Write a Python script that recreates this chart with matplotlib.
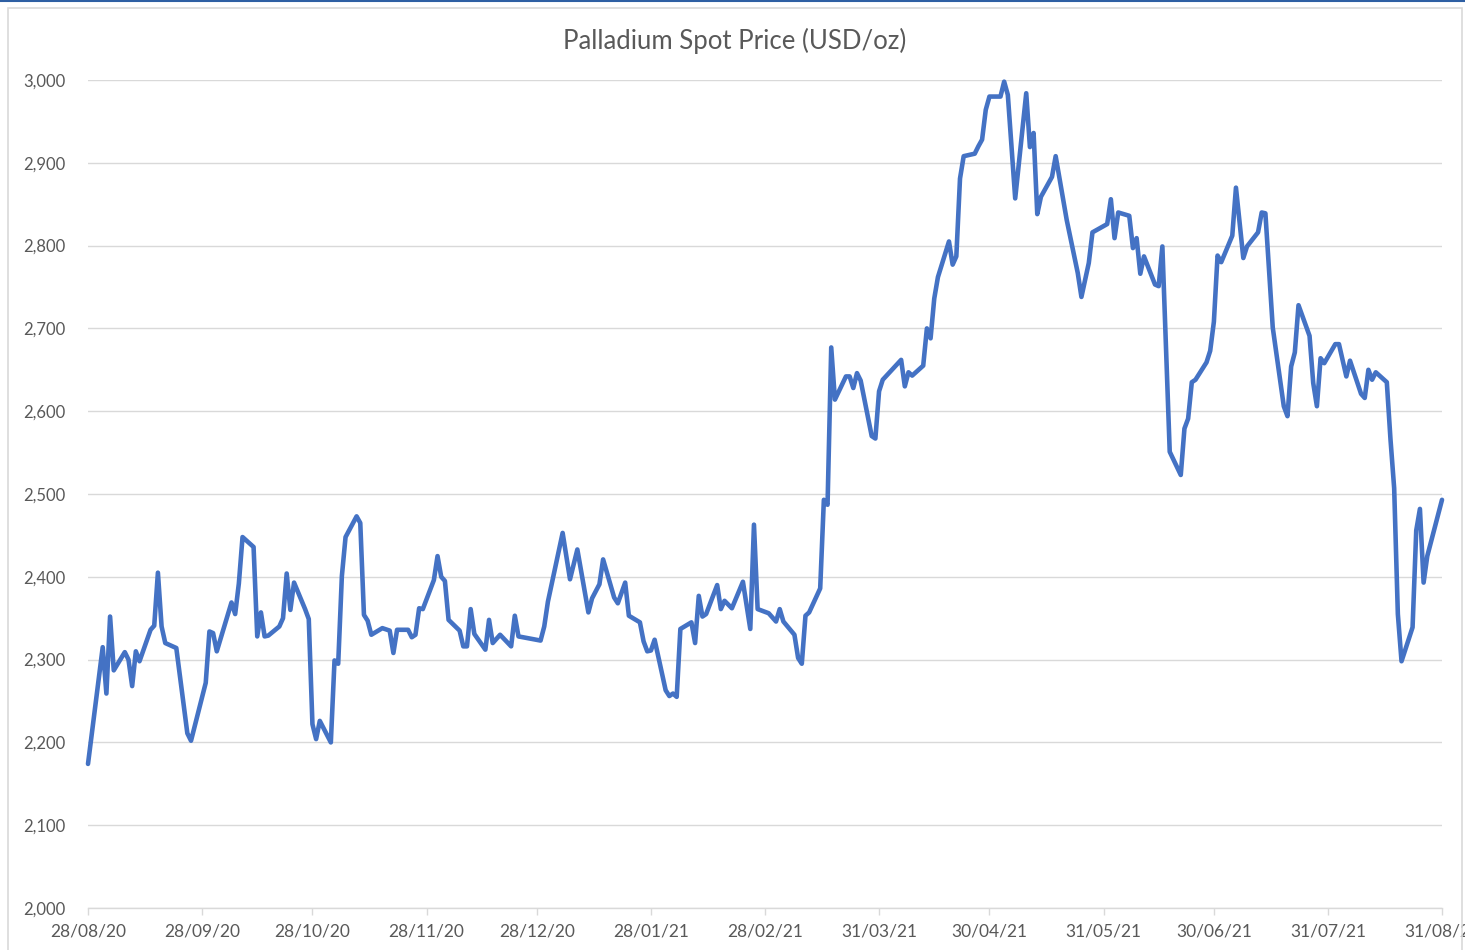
import matplotlib
matplotlib.use("Agg")
import matplotlib.pyplot as plt
import matplotlib.dates as mdates
from matplotlib.patches import Rectangle
from matplotlib.lines import Line2D
import pandas as pd

plt.rcParams['font.family'] = ['Lato', 'DejaVu Sans']

# palladium spot price, USD/oz
dates = [
    "2020-08-28", "2020-09-01", "2020-09-02", "2020-09-03", "2020-09-04", "2020-09-07",
    "2020-09-08", "2020-09-09", "2020-09-10", "2020-09-11", "2020-09-14", "2020-09-15",
    "2020-09-16", "2020-09-17", "2020-09-18", "2020-09-21", "2020-09-24", "2020-09-25",
    "2020-09-29", "2020-09-30", "2020-10-01", "2020-10-02", "2020-10-06", "2020-10-07",
    "2020-10-08", "2020-10-09", "2020-10-12", "2020-10-13", "2020-10-14", "2020-10-15",
    "2020-10-16", "2020-10-19", "2020-10-20", "2020-10-21", "2020-10-22", "2020-10-23",
    "2020-10-26", "2020-10-27", "2020-10-28", "2020-10-29", "2020-10-30", "2020-11-02",
    "2020-11-03", "2020-11-04", "2020-11-05", "2020-11-06", "2020-11-09", "2020-11-10",
    "2020-11-11", "2020-11-12", "2020-11-13", "2020-11-16", "2020-11-18", "2020-11-19",
    "2020-11-20", "2020-11-23", "2020-11-24", "2020-11-25", "2020-11-26", "2020-11-27",
    "2020-11-30", "2020-12-01", "2020-12-02", "2020-12-03", "2020-12-04", "2020-12-07",
    "2020-12-08", "2020-12-09", "2020-12-10", "2020-12-11", "2020-12-14", "2020-12-15",
    "2020-12-16", "2020-12-18", "2020-12-21", "2020-12-22", "2020-12-23", "2020-12-29",
    "2020-12-30", "2020-12-31", "2021-01-04", "2021-01-06", "2021-01-08", "2021-01-11",
    "2021-01-12", "2021-01-14", "2021-01-15", "2021-01-18", "2021-01-19", "2021-01-21",
    "2021-01-22", "2021-01-25", "2021-01-26", "2021-01-27", "2021-01-28", "2021-01-29",
    "2021-02-01", "2021-02-02", "2021-02-03", "2021-02-04", "2021-02-05", "2021-02-08",
    "2021-02-09", "2021-02-10", "2021-02-11", "2021-02-12", "2021-02-15", "2021-02-16",
    "2021-02-17", "2021-02-19", "2021-02-22", "2021-02-24", "2021-02-25", "2021-02-26",
    "2021-03-01", "2021-03-03", "2021-03-04", "2021-03-05", "2021-03-08", "2021-03-09",
    "2021-03-10", "2021-03-11", "2021-03-12", "2021-03-15", "2021-03-16", "2021-03-17",
    "2021-03-18", "2021-03-19", "2021-03-22", "2021-03-23", "2021-03-24", "2021-03-25",
    "2021-03-26", "2021-03-29", "2021-03-30", "2021-03-31", "2021-04-01", "2021-04-06",
    "2021-04-07", "2021-04-08", "2021-04-09", "2021-04-12", "2021-04-13", "2021-04-14",
    "2021-04-15", "2021-04-16", "2021-04-19", "2021-04-20", "2021-04-21", "2021-04-22",
    "2021-04-23", "2021-04-26", "2021-04-27", "2021-04-28", "2021-04-29", "2021-04-30",
    "2021-05-03", "2021-05-04", "2021-05-05", "2021-05-07", "2021-05-10", "2021-05-11",
    "2021-05-12", "2021-05-13", "2021-05-14", "2021-05-17", "2021-05-18", "2021-05-21",
    "2021-05-24", "2021-05-25", "2021-05-27", "2021-05-28", "2021-06-01", "2021-06-02",
    "2021-06-03", "2021-06-04", "2021-06-07", "2021-06-08", "2021-06-09", "2021-06-10",
    "2021-06-11", "2021-06-14", "2021-06-15", "2021-06-16", "2021-06-18", "2021-06-21",
    "2021-06-22", "2021-06-23", "2021-06-24", "2021-06-25", "2021-06-28", "2021-06-29",
    "2021-06-30", "2021-07-01", "2021-07-02", "2021-07-05", "2021-07-06", "2021-07-08",
    "2021-07-09", "2021-07-12", "2021-07-13", "2021-07-14", "2021-07-16", "2021-07-19",
    "2021-07-20", "2021-07-21", "2021-07-22", "2021-07-23", "2021-07-26", "2021-07-27",
    "2021-07-28", "2021-07-29", "2021-07-30", "2021-08-02", "2021-08-03", "2021-08-05",
    "2021-08-06", "2021-08-09", "2021-08-10", "2021-08-11", "2021-08-12", "2021-08-13",
    "2021-08-16", "2021-08-17", "2021-08-18", "2021-08-19", "2021-08-20", "2021-08-23",
    "2021-08-24", "2021-08-25", "2021-08-26", "2021-08-27", "2021-08-31",
]
prices = [
    2174, 2315, 2259, 2352, 2287, 2309,
    2300, 2268, 2310, 2298, 2336, 2341,
    2405, 2340, 2320, 2314, 2211, 2202,
    2272, 2334, 2332, 2310, 2369, 2355,
    2392, 2448, 2436, 2328, 2357, 2328,
    2329, 2340, 2350, 2404, 2360, 2393,
    2361, 2349, 2222, 2204, 2226, 2200,
    2299, 2295, 2401, 2448, 2473, 2465,
    2354, 2347, 2330, 2338, 2335, 2308,
    2336, 2336, 2327, 2330, 2362, 2361,
    2396, 2425, 2400, 2395, 2348, 2335,
    2316, 2316, 2361, 2331, 2312, 2348,
    2320, 2330, 2316, 2353, 2328, 2323,
    2340, 2370, 2453, 2397, 2433, 2357,
    2374, 2391, 2421, 2375, 2368, 2393,
    2353, 2345, 2322, 2310, 2311, 2324,
    2263, 2256, 2259, 2255, 2337, 2345,
    2320, 2377, 2352, 2355, 2390, 2361,
    2371, 2362, 2394, 2337, 2463, 2361,
    2356, 2346, 2361, 2346, 2330, 2302,
    2295, 2353, 2357, 2386, 2493, 2487,
    2677, 2614, 2642, 2642, 2628, 2646,
    2637, 2570, 2567, 2624, 2638, 2662,
    2630, 2647, 2643, 2655, 2700, 2688,
    2736, 2762, 2805, 2777, 2787, 2881,
    2908, 2911, 2920, 2928, 2964, 2980,
    2980, 2998, 2982, 2857, 2984, 2919,
    2936, 2838, 2859, 2883, 2908, 2831,
    2767, 2738, 2779, 2816, 2826, 2856,
    2809, 2840, 2836, 2797, 2809, 2766,
    2787, 2753, 2751, 2799, 2551, 2523,
    2579, 2591, 2635, 2638, 2659, 2673,
    2708, 2788, 2780, 2812, 2870, 2785,
    2799, 2816, 2840, 2839, 2701, 2606,
    2594, 2654, 2671, 2728, 2691, 2634,
    2606, 2664, 2658, 2681, 2681, 2642,
    2661, 2621, 2616, 2650, 2638, 2647,
    2635, 2566, 2507, 2355, 2298, 2339,
    2456, 2482, 2393, 2425, 2493,
]

tick_dates = ["2020-08-28", "2020-09-28", "2020-10-28", "2020-11-28", "2020-12-28",
              "2021-01-28", "2021-02-28", "2021-03-31", "2021-04-30", "2021-05-31",
              "2021-06-30", "2021-07-31", "2021-08-31"]
tick_labels = ["28/08/20", "28/09/20", "28/10/20", "28/11/20", "28/12/20", "28/01/21",
               "28/02/21", "31/03/21", "30/04/21", "31/05/21", "30/06/21", "31/07/21",
               "31/08/21"]
y_ticks = list(range(2000, 3001, 100))

W, H = 1465, 950
fig = plt.figure(figsize=(W / 100, H / 100), dpi=100)
fig.patch.set_facecolor("white")

# chart frame + blue strip at very top
fig.add_artist(Rectangle((8 / W, -0.01), (1462 - 8) / W, (H - 8) / H + 0.01,
                         transform=fig.transFigure, fill=False,
                         edgecolor="#d9d9d9", lw=1.2))
fig.add_artist(Line2D([0, 1], [1 - 1 / H, 1 - 1 / H], transform=fig.transFigure,
                      color="#2e5fa3", lw=1.5))

left, right, top, bottom = 88, 1442, 80, 908
ax = fig.add_axes([left / W, 1 - bottom / H, (right - left) / W, (bottom - top) / H])

x = pd.to_datetime(dates)
ax.plot(x, prices, color="#4472C4", lw=3.3, solid_joinstyle="round",
        solid_capstyle="round", clip_on=False, zorder=3)

ax.set_xlim(pd.Timestamp(tick_dates[0]), pd.Timestamp(tick_dates[-1]))
ax.set_ylim(2000, 3000)

ax.set_yticks(y_ticks)
ax.set_yticklabels([f"{v:,}" for v in y_ticks])
ax.set_xticks(pd.to_datetime(tick_dates))
ax.set_xticklabels(tick_labels)

ax.grid(axis="y", color="#d9d9d9", lw=1)
ax.set_axisbelow(True)
for s in ["top", "right", "left"]:
    ax.spines[s].set_visible(False)
ax.spines["bottom"].set_color("#d9d9d9")
ax.spines["bottom"].set_linewidth(1)

ax.tick_params(axis="y", length=0, pad=16, labelsize=12, labelcolor="#595959")
ax.tick_params(axis="x", length=5, width=1, color="#d9d9d9", pad=6,
               labelsize=12.5, labelcolor="#595959")

fig.text(735 / W, 1 - 41 / H, "Palladium Spot Price (USD/oz)", ha="center",
         va="center", fontsize=18.5, color="#595959")

fig.savefig("out.png", dpi=100)
